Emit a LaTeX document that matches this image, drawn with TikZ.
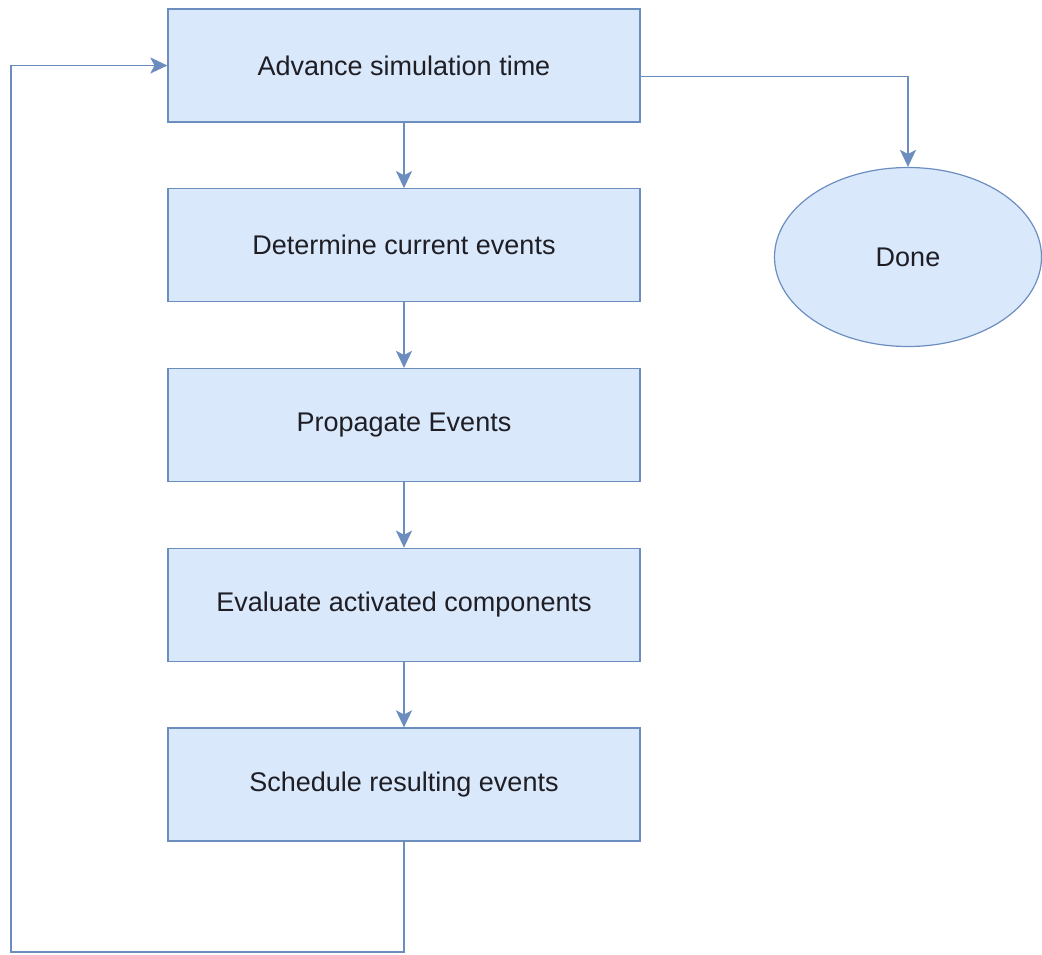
\documentclass[tikz,border=0pt]{standalone}
\usepackage{fontspec}
\setmainfont{Liberation Sans}
\usetikzlibrary{arrows.meta,shapes.geometric}
\definecolor{F}{RGB}{218,232,252}
\definecolor{S}{RGB}{108,142,191}
\definecolor{T}{RGB}{30,30,36}
\def\Xmid{404}
\def\Gap{179.75}

\begin{document}
\begin{tikzpicture}[x=1pt,y=-1pt,
    stepbox/.style={draw=S,fill=F,line width=1.2pt,minimum width=472pt,minimum height=113pt,inner sep=0pt,text=T,font=\fontsize{27}{32}\selectfont},
    flow/.style={draw=S,line width=1.4pt,-{Stealth[length=17pt,width=16pt,inset=4pt]}}]
    \path[use as bounding box] (0,0) rectangle (1042,954);
    \foreach \Name/\Text [count=\i from 0] in {adv/Advance simulation time,det/Determine current events,prop/Propagate Events,eval/Evaluate activated components,sched/Schedule resulting events} {
        \node[stepbox] (\Name) at (\Xmid,{65.5+\i*\Gap}) {\Text};
    }
    \node[ellipse,draw=S,fill=F,line width=1.2pt,minimum width=267pt,minimum height=179pt,inner sep=0pt,text=T,font=\fontsize{27}{32}\selectfont] (done) at (908,257) {Done};
    \foreach \A/\B in {adv/det,det/prop,prop/eval,eval/sched} {\draw[flow] (\A)--(\B);}
    \draw[flow] ([yshift=-11pt]adv.east) -| (done.north);
    \coordinate (low) at (\Xmid,952);
    \coordinate (corner) at (11,952);
    \draw[flow] (sched.south)--(low)--(corner)|-(adv.west);
\end{tikzpicture}
\end{document}
